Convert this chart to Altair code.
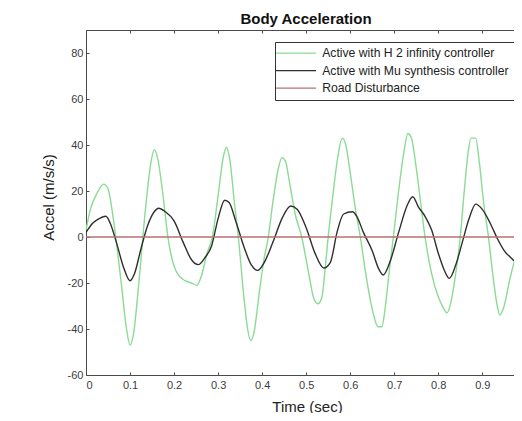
import altair as alt
import pandas as pd

# ---- data ----
t_h2 = [0, 0.01, 0.025, 0.04, 0.05, 0.062, 0.08, 0.092, 0.1, 0.108, 0.12, 0.135, 0.148, 0.155,
        0.163, 0.175, 0.186, 0.205, 0.225, 0.24, 0.252, 0.262, 0.275, 0.287, 0.3, 0.312, 0.319,
        0.327, 0.337, 0.346, 0.358, 0.367, 0.374, 0.382, 0.393, 0.404, 0.414, 0.425, 0.437, 0.445,
        0.453, 0.462, 0.475, 0.49, 0.505, 0.518, 0.527, 0.536, 0.543, 0.55, 0.56, 0.572, 0.582,
        0.59, 0.6, 0.612, 0.623, 0.637, 0.652, 0.663, 0.672, 0.68, 0.688, 0.698, 0.71, 0.722,
        0.731, 0.739, 0.75, 0.76, 0.77, 0.785, 0.8, 0.812, 0.82, 0.828, 0.838, 0.85, 0.86, 0.868,
        0.874, 0.885, 0.893, 0.903, 0.914, 0.925, 0.934, 0.94, 0.948, 0.963, 0.978, 0.99]
v_h2 = [3, 12, 19, 23, 21, 8, -20, -40, -47, -42, -20, 12, 33, 38,
        34, 18, 0, -15, -19, -20, -21, -17, -7, 0, 18, 35, 39,
        33, 15, 0, -25, -40, -45, -41, -25, -10, 0, 16, 30, 34.5,
        33, 24, 10, 0, -15, -27, -29, -26, -14, 0, 17, 35, 43,
        40, 28, 12, 0, -18, -33, -39, -39, -30, -16, 0, 20, 37,
        45, 43, 30, 15, 0, -16, -26, -31, -33, -29, -18, 0, 22, 37,
        43, 43, 33, 15, 0, -18, -30, -34, -31, -18, -7, 0]

t_mu = [0, 0.015, 0.03, 0.045, 0.055, 0.07, 0.085, 0.1, 0.11, 0.125, 0.14, 0.155, 0.165, 0.18,
        0.2, 0.22, 0.24, 0.255, 0.27, 0.285, 0.3, 0.315, 0.325, 0.34, 0.36, 0.375, 0.39, 0.405,
        0.425, 0.445, 0.465, 0.48, 0.5, 0.52, 0.54, 0.555, 0.57, 0.585, 0.605, 0.615, 0.63, 0.65,
        0.665, 0.675, 0.69, 0.71, 0.73, 0.742, 0.755, 0.77, 0.785, 0.8, 0.815, 0.825, 0.84, 0.855,
        0.87, 0.885, 0.9, 0.918, 0.935, 0.95, 0.965, 0.975, 0.99]
v_mu = [2, 6, 8, 9, 6, -3, -13, -19, -16, -5, 5, 11, 12.5, 11,
        7, -2, -10, -12, -9, -4, 8, 16, 15, 7, -5, -12, -14.5, -11,
        -2, 8, 13.5, 12, 4, -7, -13.5, -11, 2, 10, 11, 9, 2, -6,
        -14, -16.5, -11, 2, 14, 17.5, 13, 9, 3, -7, -15, -18, -12, -2,
        8, 14.3, 12, 6, -1, -6, -9, -10.5, -8]

t_road = [0, 0.25, 0.5, 0.75, 0.99]
v_road = [0, 0, 0, 0, 0]

x_ticks = [0, 0.1, 0.2, 0.3, 0.4, 0.5, 0.6, 0.7, 0.8, 0.9]
y_ticks = [-60, -40, -20, 0, 20, 40, 60, 80]

names = ["Active with H 2 infinity controller",
         "Active with Mu synthesis controller",
         "Road Disturbance"]
colors = ["#8adb94", "#2e2e2e", "#b8706f"]

rows = []
for name, ts, vs in zip(names, [t_h2, t_mu, t_road], [v_h2, v_mu, v_road]):
    for i, (t, v) in enumerate(zip(ts, vs)):
        rows.append({"series": name, "t": t, "v": v, "idx": i})
df = pd.DataFrame(rows)

x_scale = alt.Scale(domain=[0, 0.972], nice=False, zero=False)
y_scale = alt.Scale(domain=[-60, 90], nice=False, zero=False)

axis_common = dict(
    domainColor="#4a4a4a", tickColor="#4a4a4a", labelColor="#3c3c3c",
    labelFontSize=11, labelFont="Liberation Sans", grid=False,
    tickSize={"expr": "-3"}, titleColor="#222", titleFont="Liberation Sans",
    titleFontSize=15, titleFontWeight="normal",
)

lines = alt.Chart(df).mark_line(strokeWidth=1.4, interpolate="monotone", clip=True).encode(
    x=alt.X("t:Q", scale=x_scale,
            axis=alt.Axis(orient="bottom", values=x_ticks,
                          format=".1~f", title="Time (sec)", labelPadding=7,
                          titleX=221, titleY=31, titleBaseline="middle", titleAlign="center",
                          **axis_common)),
    y=alt.Y("v:Q", scale=y_scale,
            axis=alt.Axis(values=y_ticks, labelExpr="'' + datum.value",
                          title="Accel (m/s/s)", labelPadding=6,
                          titleX=-38, titleY=167, titleBaseline="middle", titleAlign="center",
                          **axis_common)),
    color=alt.Color("series:N",
                    scale=alt.Scale(domain=names, range=colors),
                    legend=alt.Legend(title=None, orient="none", legendX=189, legendY=12,
                                      symbolType="M-4,0H4", symbolSize=100, symbolStrokeWidth=1.4,
                                      symbolOffset=10, labelOffset=20, labelLimit=400,
                                      labelFontSize=12.2, labelFont="Liberation Sans", labelColor="#222",
                                      strokeColor="#333", fillColor="white",
                                      padding=5, rowPadding=4.5)),
    detail="series:N",
    order="idx:Q",
)

top = alt.Chart(df[df.series == "Road Disturbance"]).mark_line(opacity=0).encode(
    x=alt.X("t:Q", scale=x_scale,
            axis=alt.Axis(orient="top", values=x_ticks,
                          labels=False, title=None, **axis_common)),
    y=alt.Y("v:Q", scale=y_scale),
)

chart = alt.layer(lines, top).resolve_axis(x="independent").properties(
    width=428, height=345,
    title=alt.TitleParams("Body Acceleration", fontSize=15, fontWeight="bold",
                          font="Liberation Sans", color="#111", anchor="middle",
                          baseline="bottom", offset=7, dy=19, dx=6),
    autosize=alt.AutoSizeParams(type="none"),
    padding={"left": 78, "top": 22, "right": 0, "bottom": 38},
).configure_view(stroke=None).configure(background="white")

chart.save("out.html", embed_options={"renderer": "svg", "actions": False})
